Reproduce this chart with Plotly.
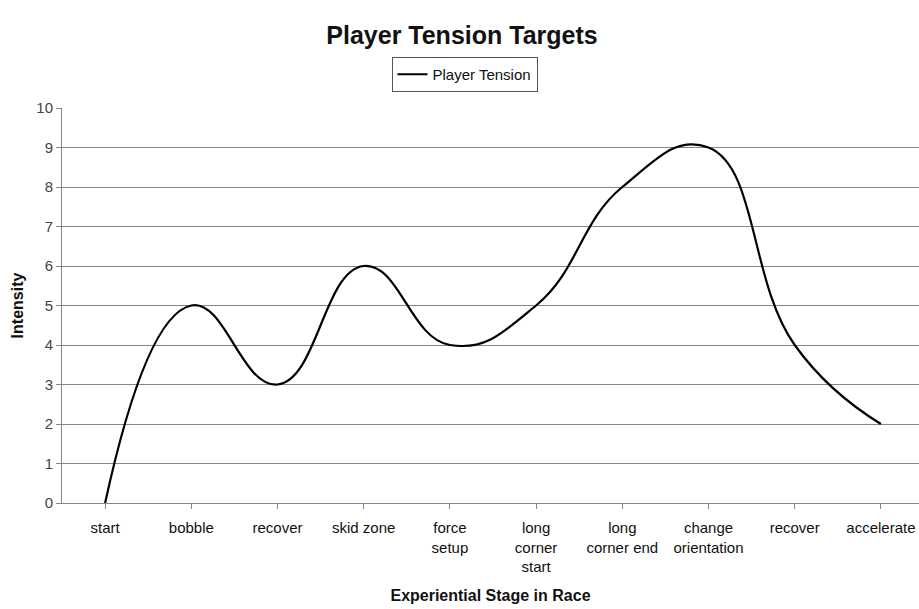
import plotly.graph_objects as go

# Race stages along the x axis (line breaks as shown under the axis)
stages = [
    "start", "bobble", "recover", "skid zone", "force<br>setup",
    "long<br>corner<br>start", "long<br>corner end", "change<br>orientation",
    "recover", "accelerate",
]
# Target tension for each stage
tension = [0, 5, 3, 6, 4, 5, 8, 9, 4, 2]
y_ticks = list(range(0, 11))

FONT = "Liberation Sans, Arial, sans-serif"
GRID = "#868686"

x_pos = list(range(len(stages)))

fig = go.Figure()
fig.add_trace(go.Scatter(
    x=x_pos,
    y=tension,
    mode="lines",
    name="Player Tension",
    line=dict(color="#000000", width=2.2, shape="spline", smoothing=1.3),
))

fig.update_layout(
    width=919,
    height=609,
    paper_bgcolor="white",
    plot_bgcolor="white",
    margin=dict(l=62, r=0, t=108, b=106),
    font=dict(family=FONT, color="#111111"),
    title=dict(
        text="<b>Player Tension Targets</b>",
        x=462 / 919, xref="container", xanchor="center",
        y=1 - 35 / 609, yref="container", yanchor="middle",
        font=dict(family=FONT, size=25, color="#111111"),
    ),
    showlegend=True,
    legend=dict(
        x=(464.5 - 62) / 857, xanchor="center",
        y=1 + (108 - 57) / 395, yanchor="top",
        bordercolor="#555555", borderwidth=1,
        bgcolor="white",
        font=dict(family=FONT, size=15, color="#111111"),
        itemwidth=30,
    ),
    xaxis=dict(
        tickmode="array",
        tickvals=x_pos,
        ticktext=stages,
        range=[-0.5, len(stages) - 0.5 - 5 / 86.2],
        tickson="boundaries",
        ticks="outside",
        ticklen=5,
        tickcolor=GRID,
        ticklabelstandoff=6,
        showline=True,
        linecolor=GRID,
        linewidth=1,
        showgrid=False,
        zeroline=False,
        tickfont=dict(family=FONT, size=15, color="#111111"),
        title=dict(
            text="<b>Experiential Stage in Race</b>",
            font=dict(family=FONT, size=16, color="#111111"),
            standoff=15,
        ),
        automargin=False,
    ),
    yaxis=dict(
        range=[0, 10],
        tickmode="array",
        tickvals=y_ticks,
        ticks="outside",
        ticklen=5,
        tickcolor=GRID,
        showline=True,
        linecolor=GRID,
        linewidth=1,
        showgrid=True,
        gridcolor=GRID,
        gridwidth=1,
        zeroline=False,
        tickfont=dict(family=FONT, size=15, color="#444444"),
        title=dict(
            text="<b>Intensity</b>",
            font=dict(family=FONT, size=16, color="#111111"),
            standoff=8,
        ),
        automargin=False,
    ),
)

fig.write_html("out.html")
